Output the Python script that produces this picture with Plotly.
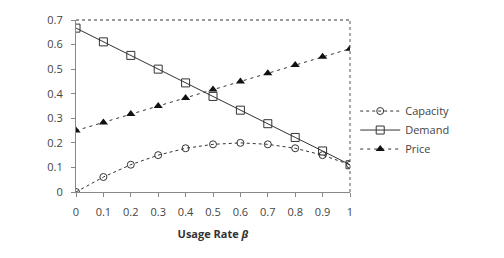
import plotly.graph_objects as go

beta = [0, 0.1, 0.2, 0.3, 0.4, 0.5, 0.6, 0.7, 0.8, 0.9, 1]
capacity = [0, 0.061, 0.111, 0.15, 0.178, 0.194, 0.2, 0.194, 0.178, 0.15, 0.111]
demand = [0.667, 0.611, 0.556, 0.5, 0.444, 0.389, 0.333, 0.278, 0.222, 0.167, 0.111]
price = [0.25, 0.283, 0.317, 0.35, 0.383, 0.417, 0.45, 0.483, 0.517, 0.55, 0.583]
x_ticks = [0, 0.1, 0.2, 0.3, 0.4, 0.5, 0.6, 0.7, 0.8, 0.9, 1]
x_ticktext = ["0", "0.1", "0.2", "0.3", "0.4", "0.5", "0.6", "0.7", "0.8", "0.9", "1"]
y_ticks = [0, 0.1, 0.2, 0.3, 0.4, 0.5, 0.6, 0.7]
y_ticktext = ["0", "0.1", "0.2", "0.3", "0.4", "0.5", "0.6", "0.7"]

fig = go.Figure()
fig.add_trace(go.Scatter(x=beta, y=capacity, name="Capacity", mode="lines+markers",
                         line=dict(color="#333333", width=1, dash="3px,3px"),
                         marker=dict(symbol="circle-open", size=7, color="#333333", line=dict(width=1))))
fig.add_trace(go.Scatter(x=beta, y=demand, name="Demand", mode="lines+markers",
                         line=dict(color="#333333", width=1),
                         marker=dict(symbol="square-open", size=8, color="#333333", line=dict(width=1))))
fig.add_trace(go.Scatter(x=beta, y=price, name="Price", mode="lines+markers",
                         line=dict(color="#333333", width=1, dash="3px,4px"),
                         marker=dict(symbol="triangle-up", size=8, color="#111111")))

font = dict(family="Open Sans, Liberation Sans, sans-serif", size=11, color="#444444")
fig.update_layout(
    width=504, height=258,
    margin=dict(l=76, r=154, t=15, b=66),
    paper_bgcolor="white", plot_bgcolor="white",
    font=font,
    showlegend=True,
    legend=dict(x=1.019, y=0.555, xanchor="left", yanchor="top", bgcolor="rgba(0,0,0,0)",
                font=dict(size=11, color="#444444"), tracegroupgap=0, itemwidth=40),
    xaxis=dict(range=[0, 1], tickvals=x_ticks, ticktext=x_ticktext, showgrid=False, zeroline=False,
               showline=True, linecolor="#888888", linewidth=1, ticks="outside", ticklen=4,
               tickcolor="#888888", tickfont=font, ticklabelstandoff=6,
               title=dict(text="<b>Usage Rate <i>β</i></b>", font=dict(size=11, color="#333333"), standoff=12)),
    yaxis=dict(range=[0, 0.7], tickvals=y_ticks, ticktext=y_ticktext, showgrid=False, zeroline=False,
               showline=True, linecolor="#888888", linewidth=1, ticks="outside", ticklen=4,
               tickcolor="#888888", tickfont=font, ticklabelstandoff=6),
    shapes=[
        dict(type="line", xref="paper", yref="paper", x0=0, x1=1, y0=1, y1=1,
             line=dict(color="#333333", width=1, dash="dot")),
        dict(type="line", xref="paper", yref="paper", x0=1, x1=1, y0=0, y1=1,
             line=dict(color="#555555", width=1, dash="dot")),
    ],
)
fig.write_html("out.html")
